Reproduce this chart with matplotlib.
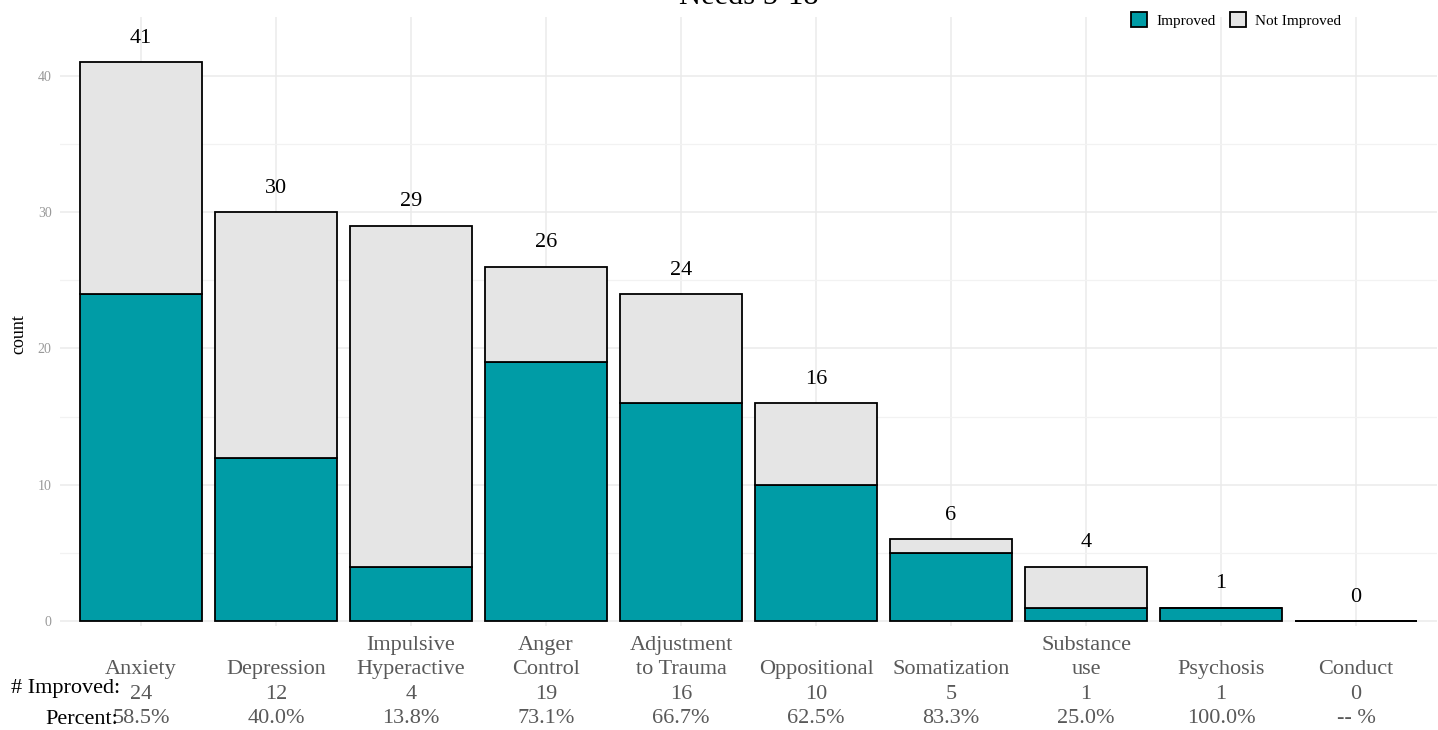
import matplotlib.pyplot as plt
import matplotlib.transforms as mtransforms
from matplotlib.patches import Patch
import numpy as np

plt.rcParams['font.family'] = ['Liberation Serif', 'DejaVu Serif']

categories = ["Anxiety", "Depression", "Impulsive\nHyperactive", "Anger\nControl",
              "Adjustment\nto Trauma", "Oppositional", "Somatization", "Substance\nuse",
              "Psychosis", "Conduct"]
improved = [24, 12, 4, 19, 16, 10, 5, 1, 1, 0]
totals = [41, 30, 29, 26, 24, 16, 6, 4, 1, 0]
percent_labels = ["58.5%", "40.0%", "13.8%", "73.1%", "66.7%", "62.5%",
                  "83.3%", "25.0%", "100.0%", "-- %"]

not_improved = [t - i for t, i in zip(totals, improved)]
teal = "#009CA6"
grey = "#E5E5E5"

fig = plt.figure(figsize=(14.38, 7.30), dpi=100)
ax = fig.add_axes([60 / 1438, 1 - 626 / 730, 1377 / 1438, 609 / 730])

x = np.arange(1, len(categories) + 1)
ax.bar(x, improved, width=0.9, color=teal, edgecolor="black", linewidth=1.3, zorder=3)
ax.bar(x, not_improved, bottom=improved, width=0.9, color=grey, edgecolor="black",
       linewidth=1.3, zorder=3)

for xi, t in zip(x, totals):
    ax.text(xi, t + 1.75, str(t), ha="center", va="center", fontsize=16, zorder=4)

ax.set_xlim(0.4, len(categories) + 0.6)
ax.set_ylim(-0.35, 44.3)
ax.set_yticks([0, 10, 20, 30, 40])
ax.set_yticks([5, 15, 25, 35], minor=True)
ax.set_xticks(x)
ax.set_xticklabels([])
ax.tick_params(axis="both", which="both", length=0)
ax.tick_params(axis="y", labelsize=10, labelcolor="#999999", pad=6)
ax.grid(True, which="major", color="#EBEBEB", linewidth=1.1, zorder=0)
ax.grid(True, which="minor", axis="y", color="#F2F2F2", linewidth=0.9, zorder=0)
for s in ax.spines.values():
    s.set_visible(False)
ax.set_ylabel("count", fontsize=13)
ax.yaxis.set_label_coords(-0.024, 0.48)

# category labels with counts and percentages, bottom aligned
trans = mtransforms.blended_transform_factory(ax.transData, fig.transFigure)
for xi, c, n, p in zip(x, categories, improved, percent_labels):
    ax.text(xi, 1 - 728 / 730, f"{c}\n{n}\n{p}", transform=trans, ha="center",
            va="bottom", fontsize=16, color="#595959", linespacing=1.38,
            clip_on=False)

fig.text(120 / 1438, 1 - 689 / 730, "# Improved:", ha="right", va="center", fontsize=16)
fig.text(118 / 1438, 1 - 720 / 730, "Percent:", ha="right", va="center", fontsize=16)

fig.text(749 / 1438, 1 - 4 / 730, "Needs 5-18", ha="center", va="baseline", fontsize=22)

handles = [Patch(facecolor=teal, edgecolor="black", linewidth=1.3, label="Improved"),
           Patch(facecolor=grey, edgecolor="black", linewidth=1.3, label="Not Improved")]
fig.legend(handles=handles, loc="center", bbox_to_anchor=(1236 / 1438, 1 - 20 / 730),
           ncol=2, frameon=False, fontsize=11, handlelength=1.1, handleheight=1.1,
           handletextpad=0.6, columnspacing=0.9)

plt.savefig("out.png", dpi=100)
